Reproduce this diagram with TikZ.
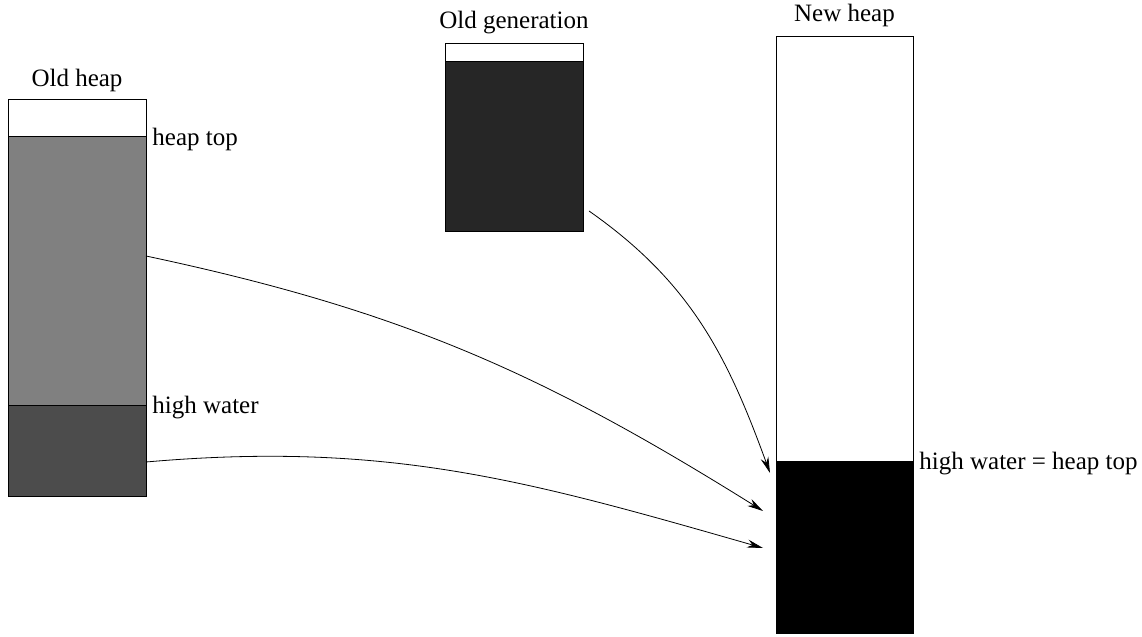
\documentclass[tikz,border=0pt]{standalone}
\usepackage{fontspec}
\setmainfont{Liberation Serif}
\newfontfamily\heapfont{Liberation Serif}
\usepackage{xcolor}
\usepackage{tikz}
\usetikzlibrary{arrows.meta,positioning}
\definecolor{livegray}{gray}{0.5}
\definecolor{copygray}{gray}{0.3}
\definecolor{gengray}{gray}{0.15}
\newcommand*{\tip}{-{Stealth[length=8pt,width=4pt]}}

\begin{document}
\begin{tikzpicture}[x=1pt, y=1pt, font=\heapfont\fontsize{12.5}{14}\selectfont]
      \useasboundingbox (0,0) rectangle (571,318.5);
      {\tikzstyle{every node}=[rectangle, draw, line width=0.5pt, inner sep=0pt, outer sep=0pt, anchor=south west, minimum width=69pt]
        \node[minimum height=18.5pt] (oldfree) at (4,250) {};
        \node[fill=livegray, minimum height=134.5pt] (oldlive) at (4,115.5) {};
        \node[fill=copygray, minimum height=45.5pt] (oldcopy) at (4,70) {};
        \node[minimum height=9pt] (genfree) at (222.5,287.5) {};
        \node[fill=gengray, minimum height=85pt] (gen) at (222.5,202.5) {};
        \node[minimum height=212.5pt, minimum width=68.5pt] (newfree) at (388,87.5) {};
        \node[fill=black, minimum height=86pt, minimum width=68.5pt] (newcopy) at (388,1.5) {};
      }

      {\tikzstyle{every node}=[inner sep=0pt]
        \node[above=4pt of oldfree] (oldname) {Old heap};
        \node[above=5pt of genfree] (genname) {Old generation};
        \node[above=5pt of newfree] (newname) {New heap};
        \node[right=3pt of oldlive.north east, yshift=-1pt] (heaptop) {heap top};
        \node[right=3pt of oldcopy.north east, yshift=-1pt] (highwater) {high water};
        \node[right=3pt of newfree.south east, yshift=-1pt] (newmark) {high water = heap top};
      }

      \coordinate (gentip) at (385,82);
      \coordinate (livetip) at (381.5,63);
      \coordinate (copytip) at (381.5,44.5);

      \draw [\tip, line width=0.4pt]
        ([shift={(3pt,10.5pt)}]gen.south east) to[out=-35, in=110] (gentip);
      \draw [\tip, line width=0.4pt]
        ([yshift=7.75pt]oldlive.east) to[out=-12, in=148] (livetip);
      \draw [\tip, line width=0.4pt]
        ([yshift=-5.25pt]oldcopy.east) to[out=5, in=164] (copytip);
    \end{tikzpicture}
\end{document}
